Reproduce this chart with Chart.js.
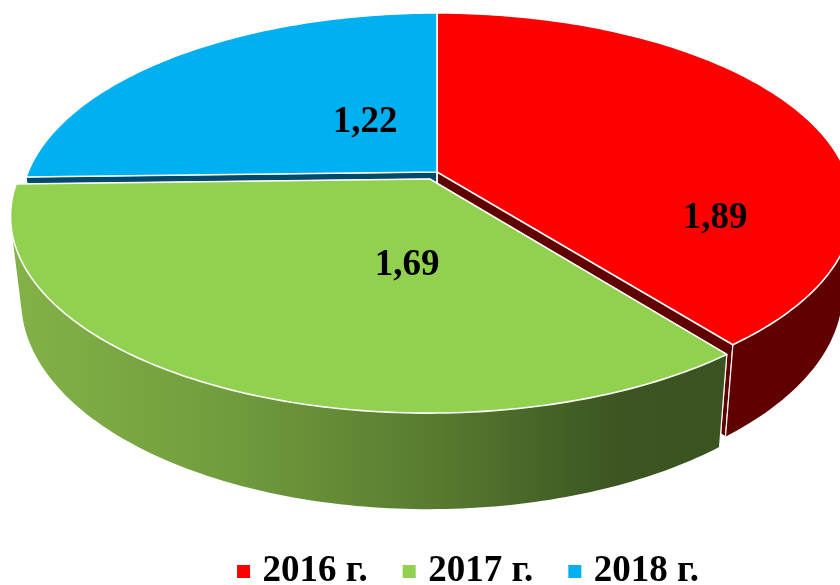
<!DOCTYPE html>
<html><head><meta charset="utf-8">
<style>html,body{margin:0;padding:0;background:#fff;overflow:hidden}canvas{display:block}</style>
<script src="https://cdn.jsdelivr.net/npm/chart.js@4"></script>
</head><body><canvas id="c" width="840" height="585"></canvas>
<script>
const categories = ['2016 г.', '2017 г.', '2018 г.'];
const values = [1.89, 1.69, 1.22];
const sliceColors = ['#ff0000', '#92d050', '#00b0f0'];
const sideColors = ['#600000', '#587f2f', '#004a6c'];
const explode = [0, 10, 0];

// perspective of the tilted disc
const cx = 437, cy = 172, A = 409, B = 188.2, k = 0.1836;
const sinkX = 0.975, depth0 = 81.6, depthGrow = 0.06;
const FONT = '"Liberation Serif","Times New Roman",serif';

function project(u, v) {
  const d = 1 - k * v;
  return [cx + A * u / d, cy + B * v / d];
}
function lower(p) {
  return [cx + (p[0] - cx) * sinkX, p[1] + depth0 + depthGrow * (p[1] - cy)];
}
function shift(el) {
  const mid = (el.startAngle + el.endAngle) / 2;
  const off = (el.options.offset || 0) / el.outerRadius;
  return [Math.cos(mid) * off, Math.sin(mid) * off];
}
function rim(el, t) {
  const s = shift(el);
  return project(Math.cos(t) + s[0], Math.sin(t) + s[1]);
}
function apex(el) {
  const s = shift(el);
  return project(s[0], s[1]);
}

// slices are drawn from the angles the library computed, through the perspective above
Chart.ArcElement.prototype.draw = function (ctx) {
  const n = Math.ceil((this.endAngle - this.startAngle) * 60);
  ctx.save();
  ctx.beginPath();
  const a = apex(this);
  ctx.moveTo(a[0], a[1]);
  for (let i = 0; i <= n; i++) {
    const p = rim(this, this.startAngle + (this.endAngle - this.startAngle) * i / n);
    ctx.lineTo(p[0], p[1]);
  }
  ctx.closePath();
  ctx.fillStyle = this.options.backgroundColor;
  ctx.fill();
  ctx.lineWidth = 1.6;
  ctx.lineJoin = 'round';
  ctx.strokeStyle = '#ffffff';
  ctx.stroke();
  ctx.restore();
};

function sideFill(ctx, i) {
  if (i !== 1) return sideColors[i];
  const g = ctx.createLinearGradient(20, 0, 720, 0);
  g.addColorStop(0, '#82b147');
  g.addColorStop(0.3, '#719c3d');
  g.addColorStop(0.6, '#577a2f');
  g.addColorStop(0.85, '#3c5522');
  g.addColorStop(1, '#3b5321');
  return g;
}
function quad(ctx, p, q, r, s) {
  ctx.moveTo(p[0], p[1]); ctx.lineTo(q[0], q[1]); ctx.lineTo(r[0], r[1]); ctx.lineTo(s[0], s[1]);
  ctx.closePath();
}
function area(p, q, r, s) {
  const pts = [p, q, r, s];
  let t = 0;
  pts.forEach((a, i) => { const b = pts[(i + 1) % 4]; t += a[0] * b[1] - b[0] * a[1]; });
  return t;
}

const sides = {
  id: 'sides',
  afterLayout(chart) {
    const down = 15, across = 51;
    const l = chart.legend;
    l.top += down; l.bottom += down;
    l.left += across; l.right += across;
  },
  beforeDatasetsDraw(chart) {
    const ctx = chart.ctx, arcs = chart.getDatasetMeta(0).data;
    const order = arcs.map((_, i) => i).sort((a, b) => explode[a] - explode[b]);
    ctx.save();
    ctx.lineJoin = 'round';
    order.forEach(i => {
      const el = arcs[i], fill = sideFill(ctx, i);
      ctx.fillStyle = fill;
      const a = apex(el), al = lower(a);
      [el.startAngle, el.endAngle].forEach(t => {
        const p = rim(el, t);
        ctx.beginPath();
        quad(ctx, a, p, lower(p), al);
        ctx.fill();
        ctx.strokeStyle = '#ffffff';
        ctx.lineWidth = 1;
        ctx.stroke();
      });
      const n = Math.ceil((el.endAngle - el.startAngle) * 60);
      // one path of the outward-facing wall pieces, all wound the same way
      ctx.beginPath();
      for (let j = 0; j < n; j++) {
        const t0 = el.startAngle + (el.endAngle - el.startAngle) * j / n;
        const t1 = el.startAngle + (el.endAngle - el.startAngle) * (j + 1) / n;
        const p0 = rim(el, t0), p1 = rim(el, t1);
        const b0 = lower(p0), b1 = lower(p1);
        if (area(p0, p1, b1, b0) < 0) quad(ctx, p0, p1, b1, b0);
      }
      ctx.fill();
      // white seam at the front corners
      [el.startAngle, el.endAngle].forEach(t => {
        const p = rim(el, t), b = lower(p);
        if (p[1] > cy + 40) {
          ctx.beginPath(); ctx.moveTo(p[0], p[1]); ctx.lineTo(b[0], b[1]);
          ctx.strokeStyle = '#ffffff'; ctx.lineWidth = 1.2; ctx.stroke();
        }
      });
    });
    ctx.restore();
  },
  afterDatasetsDraw(chart) {
    const ctx = chart.ctx;
    const spots = [[715, 218], [407, 265], [365, 122]];
    ctx.save();
    ctx.font = 'bold 37px ' + FONT;
    ctx.fillStyle = '#000';
    ctx.textAlign = 'center';
    ctx.textBaseline = 'middle';
    values.forEach((v, i) => {
      ctx.fillText(v.toFixed(2).replace('.', ','), spots[i][0], spots[i][1]);
    });
    ctx.restore();
  }
};

new Chart(document.getElementById('c'), {
  type: 'pie',
  data: {
    labels: categories,
    datasets: [{
      data: values,
      backgroundColor: sliceColors,
      borderWidth: 0,
      offset: explode
    }]
  },
  plugins: [sides],
  options: {
    responsive: false,
    animation: false,
    plugins: {
      tooltip: { enabled: false },
      legend: {
        position: 'bottom',
        labels: {
          usePointStyle: true,
          pointStyle: 'rect',
          boxWidth: 1,
          boxHeight: 13,
          padding: 41,
          color: '#000',
          font: { family: FONT, size: 37, weight: 'bold' }
        }
      }
    }
  }
});
</script></body></html>
